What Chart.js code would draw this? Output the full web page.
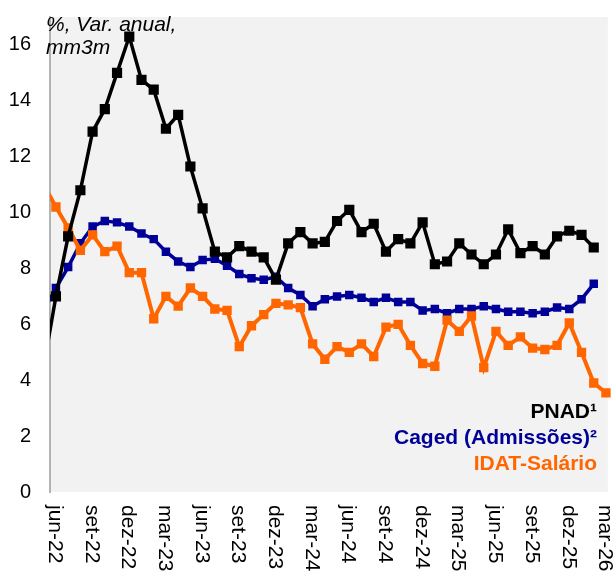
<!DOCTYPE html>
<html>
<head>
<meta charset="utf-8">
<script src="https://cdn.jsdelivr.net/npm/chart.js@4.4.1/dist/chart.umd.min.js"></script>
<style>
  body { margin: 0; background: #fff; }
  #wrap { width: 615px; height: 576px; }
</style>
</head>
<body>
<div id="wrap"><canvas id="salarios" width="615" height="576"></canvas></div>
<script>
// months from mai-22 to mar-26 (mai-22 sits just left of the plot, clipped)
var months = ["mai-22","jun-22","jul-22","ago-22","set-22","out-22","nov-22","dez-22",
  "jan-23","fev-23","mar-23","abr-23","mai-23","jun-23","jul-23","ago-23","set-23","out-23","nov-23","dez-23",
  "jan-24","fev-24","mar-24","abr-24","mai-24","jun-24","jul-24","ago-24","set-24","out-24","nov-24","dez-24",
  "jan-25","fev-25","mar-25","abr-25","mai-25","jun-25","jul-25","ago-25","set-25","out-25","nov-25","dez-25",
  "jan-26","fev-26","mar-26"];

var pnad = [4.5, 7.0, 9.15, 10.8, 12.9, 13.7, 15.0, 16.3,
  14.75, 14.4, 13.0, 13.5, 11.65, 10.15, 8.6, 8.4, 8.8, 8.6, 8.4, 7.6,
  8.9, 9.3, 8.9, 8.95, 9.7, 10.1, 9.3, 9.6, 8.6, 9.05, 8.9, 9.65,
  8.15, 8.25, 8.9, 8.5, 8.15, 8.5, 9.4, 8.55, 8.8, 8.5, 9.15, 9.35,
  9.2, 8.75, null];

var caged = [6.5, 7.3, 8.05, 8.9, 9.5, 9.7, 9.65, 9.5,
  9.25, 9.05, 8.6, 8.25, 8.05, 8.3, 8.35, 8.1, 7.8, 7.65, 7.6, 7.7,
  7.3, 7.05, 6.65, 6.9, 7.0, 7.05, 6.95, 6.8, 6.95, 6.8, 6.8, 6.5,
  6.55, 6.4, 6.55, 6.55, 6.65, 6.55, 6.45, 6.45, 6.4, 6.45, 6.6, 6.55,
  6.9, 7.45, null];

var idat = [11.0, 10.2, 9.45, 8.65, 9.2, 8.6, 8.8, 7.85,
  7.85, 6.2, 7.0, 6.65, 7.3, 7.0, 6.55, 6.5, 5.2, 5.95, 6.35, 6.75,
  6.7, 6.6, 5.3, 4.75, 5.2, 5.0, 5.3, 4.85, 5.9, 6.0, 5.25, 4.6,
  4.5, 6.15, 5.75, 6.3, 4.45, 5.75, 5.25, 5.55, 5.15, 5.1, 5.25, 6.05,
  5.0, 3.9, 3.55];

var seriesNames = ["PNAD\u00b9", "Caged (Admiss\u00f5es)\u00b2", "IDAT-Sal\u00e1rio"];
var seriesColors = ["#000000", "#000099", "#ff6600"];
var yTicks = [0, 2, 4, 6, 8, 10, 12, 14, 16];

var FONT = '"Liberation Sans", Arial, sans-serif';

function toPoints(arr) {
  return arr.map(function (v, i) { return { x: i, y: v }; });
}

var plotBg = {
  id: 'plotBg',
  beforeDraw: function (chart) {
    var a = chart.chartArea, c = chart.ctx;
    c.save();
    c.fillStyle = '#f2f2f2';
    c.fillRect(a.left, a.top, a.right - a.left, a.bottom - a.top);
    c.restore();
  }
};

var extraText = {
  id: 'extraText',
  afterDraw: function (chart) {
    var c = chart.ctx, xs = chart.scales.x;
    c.save();
    // x labels, every 3 months, rotated to read top-down
    c.fillStyle = '#000';
    c.font = '21px ' + FONT;
    c.textAlign = 'left';
    c.textBaseline = 'middle';
    for (var i = 1; i < months.length; i += 3) {
      var px = xs.getPixelForValue(i) - 1;
      c.save();
      c.translate(px, 505);
      c.rotate(Math.PI / 2);
      c.fillText(months[i], 0, 0);
      c.restore();
    }
    // axis title
    c.font = 'italic 21px ' + FONT;
    c.textBaseline = 'alphabetic';
    c.fillText('%, Var. anual,', 46, 31);
    c.fillText('mm3m', 46, 54);
    // legend
    c.font = 'bold 21px ' + FONT;
    c.textAlign = 'right';
    var ys = [418, 444, 470];
    for (var k = 0; k < seriesNames.length; k++) {
      c.fillStyle = seriesColors[k];
      c.fillText(seriesNames[k], 597, ys[k]);
    }
    c.restore();
  }
};

function lineSet(label, data, color, width, radius, order) {
  return {
    label: label,
    data: toPoints(data),
    borderColor: color,
    backgroundColor: color,
    borderWidth: width,
    pointStyle: 'rect',
    pointRadius: radius,
    pointHoverRadius: radius,
    pointBorderWidth: 0,
    pointBackgroundColor: color,
    tension: 0,
    order: order,
    clip: { left: 0, top: 10, right: 10, bottom: 0 }
  };
}

var ctx = document.getElementById("salarios").getContext('2d');
var salarios = new Chart(ctx, {
  type: 'line',
  data: {
    datasets: [
      lineSet(seriesNames[0], pnad, seriesColors[0], 3.5, 7.2, 0),
      lineSet(seriesNames[1], caged, seriesColors[1], 3.5, 6, 2),
      lineSet(seriesNames[2], idat, seriesColors[2], 4, 6.6, 1)
    ]
  },
  options: {
    responsive: false,
    animation: false,
    events: [],
    layout: { padding: { top: 17, right: 0, bottom: 84, left: 0 } },
    plugins: { legend: { display: false }, tooltip: { enabled: false } },
    scales: {
      x: {
        type: 'linear',
        display: false,
        min: 0.515,
        max: 46.15
      },
      y: {
        min: 0,
        max: 17,
        afterFit: function (scale) {
          scale.width = 50;
          scale.paddingTop = 0;
          scale.paddingBottom = 0;
        },
        afterBuildTicks: function (scale) {
          scale.ticks = yTicks.map(function (v) { return { value: v }; });
        },
        grid: { display: false, drawTicks: false },
        border: { display: true, color: '#b3b3b3', width: 2 },
        ticks: {
          padding: 19,
          color: '#000',
          font: { family: FONT, size: 20 }
        }
      }
    }
  },
  plugins: [plotBg, extraText]
});
</script>
</body>
</html>
